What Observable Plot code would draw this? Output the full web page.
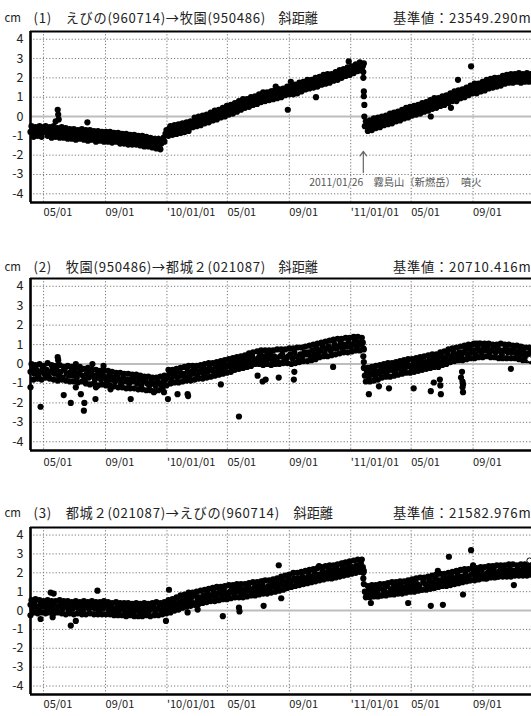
<!DOCTYPE html>
<html><head><meta charset="utf-8">
<script src="https://cdn.jsdelivr.net/npm/d3@7"></script>
<script src="https://cdn.jsdelivr.net/npm/@observablehq/plot@0.6"></script>
<style>
html,body{margin:0;padding:0;background:#fff;}
#chart{width:531px;}
#chart svg{display:block;}
</style></head><body><div id="chart"></div>
<script>
const FONT = '"Noto Sans CJK JP", "Noto Sans", sans-serif';

// ---- axis ticks ----
const xTickDates = ["2009-05-01","2009-09-01","2010-01-01","2010-05-01","2010-09-01","2011-01-01","2011-05-01","2011-09-01"];
const xTickLabels = ["05/01","09/01","'10/01/01","05/01","09/01","'11/01/01","05/01","09/01"];
const yTicks = [4,3,2,1,0,-1,-2,-3,-4];
const xDomain = ["2009-04-05","2011-12-26"];
const yDomain = [-4.45, 4.4];

// ---- titles ----
const panelTitles = ["(1)　えびの(960714)→牧園(950486)", "(2)　牧園(950486)→都城２(021087)", "(3)　都城２(021087)→えびの(960714)"];
const panelKind = ["斜距離", "斜距離", "斜距離"];
const panelBase = ["基準値：23549.290m", "基準値：20710.416m", "基準値：21582.976m"];
const eventDate = "2011-01-26";
const eventLabel = "2011/01/26　霧島山（新燃岳）　噴火";

// ---- series: values every 4 days (A = band core, B = band edges, 2 days later) ----
const seriesStepDays = 4;
const preStartA = "2009-04-05", preStartB = "2009-04-07";
const postStartA = "2011-01-29", postStartB = "2011-01-31";

const p1Pre = [-0.8,-0.7,-0.9,-0.8,-0.6,-0.9,-0.7,
-0.8,-0.6,-0.9,-0.7,-1.0,-0.8,-0.7,-0.9,-0.8,-1.0,-0.7,-0.9,-1.0,-0.8,
-1.0,-0.8,-1.1,-0.9,-1.0,-0.8,-1.1,-0.9,-1.2,-1.0,-0.9,-1.1,-1.0,-1.2,-0.9,-1.1,-1.0,
-1.2,-1.0,-1.1,-0.9,-1.2,-1.1,-1.3,-1.0,-1.2,-1.1,-1.3,-1.2,-1.1,
-1.3,-1.1,-1.4,-1.2,-1.3,-1.2,-1.4,-1.3,-1.5,-1.3,-1.4,-1.5,-1.3,-1.6,-1.4,
-1.1,-0.9,
-0.8,-0.6,-0.8,-0.6,-0.7,-0.5,-0.6,-0.4,-0.6,-0.4,-0.5,-0.3,-0.3,
-0.4,-0.2,-0.3,-0.1,-0.2,-0.1,0.0,-0.1,0.1,0.0,
0.2,0.0,0.1,0.3,0.2,0.4,0.2,0.4,
0.5,0.3,0.6,0.4,0.6,0.5,0.7,
0.6,0.8,0.7,0.9,0.7,0.9,0.8,1.0,0.9,1.1,
1.0,1.2,1.0,1.1,1.3,1.1,1.2,1.4,1.2,1.3,1.4,1.2,1.4,
1.5,1.3,1.5,1.4,1.6,1.5,1.7,1.5,1.7,
1.6,1.8,1.7,1.9,1.7,1.8,2.0,1.8,2.0,1.9,
2.1,1.9,2.1,2.0,2.2,2.1,2.3,2.2,2.4,2.3,
2.4,2.5,2.4,2.6,2.5,2.7,2.6,2.6];
const p1PreB = [-0.5,-1.05,-0.55,-1.0,-0.5,-1.05,-0.55,
-0.5,-1.0,-0.55,-1.1,-0.5,-1.05,-0.6,-1.1,-0.55,-1.1,-0.6,-1.15,-0.65,-1.15,
-0.65,-1.2,-0.7,-1.15,-0.65,-1.2,-0.7,-1.25,-0.7,-1.2,-0.75,-1.3,-0.75,-1.25,-0.8,-1.3,-0.8,
-1.3,-0.8,-1.35,-0.85,-1.3,-0.85,-1.4,-0.9,-1.4,-0.9,-1.45,-0.95,-1.45,
-0.95,-1.45,-1.0,-1.5,-1.0,-1.55,-1.05,-1.55,-1.1,-1.6,-1.15,-1.65,-1.15,-1.7,-1.2,
-1.3,-0.7,
-1.0,-0.5,-0.95,-0.45,-0.9,-0.4,-0.85,-0.35,-0.8,-0.3,-0.75,-0.25,-0.55,
-0.05,-0.5,0.0,-0.45,0.05,-0.35,0.1,-0.3,0.2,-0.2,
0.3,-0.15,0.35,-0.05,0.45,0.0,0.55,0.1,
0.6,0.15,0.7,0.25,0.8,0.35,0.9,
0.45,0.9,0.5,1.0,0.6,1.05,0.65,1.15,0.75,1.25,
0.8,1.25,0.85,1.3,0.9,1.35,0.95,1.4,1.0,1.45,1.1,1.55,1.15,
1.6,1.15,1.65,1.2,1.75,1.3,1.8,1.4,1.9,
1.45,1.9,1.5,2.0,1.55,2.05,1.65,2.15,1.7,2.2,
1.75,2.2,1.85,2.3,1.9,2.4,2.0,2.45,2.1,2.55,
2.15,2.6,2.25,2.7,2.35,2.8,2.4,2.75];
const p1Post = [-0.5,-0.4,-0.6,-0.4,-0.3,-0.5,-0.3,-0.4,-0.2,-0.3,-0.1,-0.3,-0.1,-0.2,0.0,
0.0,-0.1,0.1,0.0,0.2,0.1,0.3,0.1,0.3,
0.4,0.2,0.5,0.3,0.5,0.4,0.6,0.5,0.7,0.5,0.7,
0.8,0.6,0.9,0.7,0.9,0.8,1.0,0.9,1.1,1.0,
1.1,1.2,1.0,1.3,1.2,1.4,1.2,1.4,1.3,1.5,
1.4,1.6,1.5,1.7,1.5,1.7,1.6,1.8,1.7,1.8,
1.9,1.7,1.9,1.8,2.0,1.8,2.0,1.9,
2.1,1.9,2.0,2.1,1.9,2.1,2.0,1.9,2.0,2.1];
const p1PostB = [-0.25,-0.75,-0.2,-0.7,-0.1,-0.6,-0.05,-0.55,0.0,-0.45,0.05,-0.4,0.15,-0.35,0.2,
-0.25,0.25,-0.2,0.35,-0.1,0.45,-0.05,0.5,0.05,
0.55,0.1,0.6,0.15,0.7,0.25,0.75,0.3,0.85,0.4,0.95,
0.45,0.95,0.55,1.05,0.6,1.1,0.7,1.2,0.8,1.3,
0.8,1.35,0.95,1.4,1.0,1.5,1.1,1.6,1.2,1.7,
1.2,1.7,1.3,1.8,1.35,1.9,1.45,1.95,1.5,2.0,
1.55,2.0,1.6,2.1,1.7,2.15,1.75,2.2,
1.75,2.2,1.8,2.25,1.75,2.2,1.8,2.25,1.8,2.2];
const p1Extra = [["2009-05-29",0.35],["2009-05-30",0.1],["2009-05-31",-0.15],["2009-05-25",-0.25],["2009-07-27",-0.3],
["2010-08-05",1.55],["2010-08-29",0.35],["2010-09-04",1.8],["2010-10-24",1.0],["2010-12-28",2.85],
["2011-01-26",2.3],["2011-01-26",2.0],["2011-01-27",1.3],["2011-01-27",1.05],["2011-01-28",0.6],["2011-01-28",0.0],
["2011-06-09",0.0],["2011-07-19",0.45],["2011-08-02",1.9],["2011-08-28",2.6]];

const p2Pre = [-0.4,-0.2,-0.5,-0.3,-0.6,-0.4,-0.2,-0.5,-0.3,-0.6,-0.4,
-0.2,-0.5,-0.3,-0.6,-0.4,-0.7,-0.3,-0.5,-0.6,-0.4,
-0.6,-0.4,-0.7,-0.5,-0.3,-0.6,-0.8,-0.5,-0.7,-0.4,-0.6,-0.8,-0.6,-0.5,-0.8,-0.6,-0.7,
-0.9,-0.6,-0.8,-0.7,-0.9,-0.6,-0.8,-1.0,-0.7,-0.9,-0.8,-1.0,-0.8,
-0.9,-0.7,-1.0,-0.8,-1.1,-0.9,-0.8,-1.0,-1.1,-0.9,-1.0,-1.1,
-0.9,-1.0,-1.1,-0.9,-0.8,
-0.7,-0.5,-0.8,-0.6,-0.5,-0.7,-0.4,-0.6,-0.5,-0.7,-0.4,-0.6,-0.4,
-0.5,-0.3,-0.6,-0.4,-0.2,-0.5,-0.3,-0.4,-0.2,-0.3,
-0.4,-0.2,-0.3,-0.1,-0.3,0.0,-0.2,-0.1,
0.0,-0.2,0.1,-0.1,0.2,0.0,0.1,
0.2,0.0,0.3,0.1,0.4,0.2,0.1,0.3,0.5,0.2,
0.4,0.1,0.3,0.5,0.2,0.4,0.3,0.1,0.4,0.5,0.2,0.3,0.4,
0.5,0.3,0.6,0.4,0.2,0.5,0.4,0.6,0.5,
0.6,0.4,0.7,0.5,0.8,0.6,0.7,0.9,0.6,0.8,
0.9,0.7,0.8,1.0,0.8,0.9,1.1,0.8,1.0,0.9,
1.1,0.9,1.0,1.2,0.9,1.1,1.0,1.1];
const p2PreB = [0.0,-0.8,-0.05,-0.75,0.0,-0.8,-0.1,-0.7,0.05,-0.75,-0.05,
-0.8,-0.1,-0.85,-0.05,-0.8,-0.15,-0.85,-0.1,-0.9,-0.15,
-0.9,-0.2,-0.95,-0.15,-0.9,-0.25,-1.0,-0.2,-1.05,-0.3,-1.0,-0.3,-1.1,-0.35,-1.05,-0.35,-1.1,
-0.35,-1.1,-0.4,-1.15,-0.45,-1.2,-0.45,-1.2,-0.5,-1.25,-0.5,-1.25,-0.55,
-1.25,-0.55,-1.3,-0.6,-1.3,-0.65,-1.35,-0.65,-1.35,-0.7,-1.4,-0.7,
-1.35,-0.65,-1.3,-0.6,-1.1,
-0.3,-1.0,-0.3,-0.95,-0.25,-0.95,-0.2,-0.9,-0.15,-0.85,-0.1,-0.85,-0.1,
-0.8,-0.1,-0.75,-0.05,-0.75,0.0,-0.7,0.05,-0.65,0.05,
-0.6,0.1,-0.55,0.15,-0.5,0.2,-0.45,0.25,
-0.4,0.3,-0.3,0.35,-0.25,0.4,-0.2,
0.45,-0.15,0.55,-0.1,0.6,0.0,0.65,0.0,0.7,-0.05,
0.7,0.0,0.7,-0.05,0.7,0.0,0.75,0.0,0.75,0.05,0.75,0.05,0.8,
0.0,0.8,0.05,0.85,0.1,0.85,0.15,0.9,0.15,
0.95,0.2,1.0,0.25,1.05,0.35,1.1,0.4,1.15,0.4,
1.2,0.45,1.25,0.5,1.3,0.55,1.3,0.6,1.35,0.6,
1.35,0.65,1.4,0.7,1.4,0.7,1.35,0.75];
const p2Post = [-0.6,-0.4,-0.7,-0.5,-0.3,-0.6,-0.4,-0.5,-0.3,-0.4,-0.2,
-0.4,-0.2,-0.3,-0.1,-0.4,-0.2,0.0,-0.3,-0.1,-0.2,0.0,-0.1,
-0.2,0.0,-0.1,0.1,-0.1,0.2,0.0,0.1,-0.1,0.2,0.1,0.3,0.1,
0.3,0.1,0.4,0.2,0.3,0.5,0.2,0.4,0.6,0.3,0.5,0.6,
0.4,0.6,0.7,0.5,0.8,0.6,0.7,0.5,0.8,0.7,0.6,0.8,0.7,
0.8,0.6,0.7,0.9,0.6,0.8,0.7,0.5,0.7,0.8,0.6,0.7,0.6,0.8,
0.6,0.5,0.7,0.5,0.6,0.4,0.5,0.6];
const p2PostB = [-0.9,-0.2,-0.9,-0.15,-0.85,-0.1,-0.8,-0.05,-0.7,0.0,-0.65,
0.05,-0.65,0.05,-0.6,0.1,-0.55,0.15,-0.5,0.2,-0.45,0.25,-0.45,
0.25,-0.4,0.3,-0.35,0.35,-0.3,0.4,-0.25,0.45,-0.2,0.5,-0.15,0.5,
-0.15,0.6,-0.05,0.65,0.0,0.75,0.1,0.8,0.15,0.85,0.2,0.9,
0.2,0.95,0.25,1.0,0.3,1.0,0.3,1.05,0.35,1.05,0.35,1.05,0.4,
1.05,0.35,1.0,0.35,1.0,0.3,1.05,0.3,1.0,0.3,1.0,0.3,0.95,0.3,
0.95,0.25,0.9,0.2,0.85,0.2,0.85,0.15];
const p2Extra = [["2009-04-05",-1.2],["2009-04-25",-2.2],["2009-06-10",-1.6],["2009-06-24",-2.0],["2009-07-04",-1.2],
["2009-07-14",-1.55],["2009-07-20",-2.4],["2009-07-21",-2.0],["2009-08-12",-1.8],["2009-08-13",-1.2],
["2009-09-11",-1.3],["2009-10-21",-1.8],["2009-12-06",-1.45],["2009-12-26",-1.45],["2010-01-03",-1.8],
["2010-01-22",-1.55],["2010-02-11",-1.55],["2010-02-12",-1.65],["2010-04-18",-1.05],["2010-05-24",-2.7],
["2009-05-29",0.35],["2009-05-30",0.2],["2009-07-04",0.0],["2009-08-06",0.0],["2009-08-28",-0.1],
["2010-06-30",-0.6],["2010-07-10",-0.9],["2010-07-16",-0.8],["2010-07-20",0.6],
["2010-08-11",-0.7],["2010-09-10",-0.8],["2010-09-11",-0.4],["2010-11-27",-0.15],
["2011-01-26",0.8],["2011-01-26",0.4],["2011-01-27",0.1],["2011-01-27",-0.2],
["2011-02-06",-1.55],["2011-02-26",-1.15],["2011-03-18",-1.25],["2011-05-06",-1.25],["2011-06-09",-1.4],
["2011-06-15",-0.95],["2011-06-27",-0.8],["2011-06-28",-1.1],["2011-06-29",-1.55],["2011-08-08",-0.7],
["2011-08-10",-0.4],["2011-08-11",-0.9],["2011-08-11",-1.2],["2011-08-12",-1.45],["2011-08-12",-1.05],
["2011-11-15",-0.25],["2011-09-03",1.05],["2011-09-13",1.05]];

const p3Pre = [0.3,0.1,0.4,0.2,0.0,0.3,0.2,0.4,0.1,0.3,0.2,
0.1,0.3,0.0,0.2,0.4,0.1,0.3,0.2,0.0,0.3,0.1,0.2,0.4,0.1,0.3,0.0,0.2,0.3,0.1,0.2,0.4,0.1,0.2,0.0,0.3,0.1,0.2,
0.3,0.0,0.2,0.1,-0.1,0.2,0.0,0.3,0.1,-0.1,0.2,0.0,0.1,-0.1,0.2,0.0,0.1,-0.1,
0.1,-0.1,0.2,0.0,0.1,0.2,-0.1,0.1,0.3,0.0,0.2,0.1,
0.3,0.1,0.4,0.2,0.4,0.3,0.5,0.3,0.6,0.4,0.7,
0.5,0.7,0.4,0.8,0.6,0.7,0.5,0.8,0.6,0.9,0.7,0.8,1.0,0.7,0.9,
1.0,0.8,1.1,0.9,0.8,1.0,1.2,0.9,1.1,1.0,1.2,
0.9,1.1,1.0,1.3,1.1,0.9,1.2,1.0,1.3,1.1,1.4,1.2,1.0,1.3,
1.2,1.4,1.3,1.5,1.2,1.4,1.6,1.3,1.5,1.7,1.4,1.6,1.7,
1.5,1.7,1.6,1.8,1.5,1.7,1.9,1.6,1.8,2.0,1.7,1.9,1.8,2.1,1.9,2.0,2.2,
1.9,2.1,2.0,2.2,1.9,2.1,2.3,2.0,2.2,2.4,2.1,2.3,2.2,2.4,2.3,2.5,2.3];
const p3PreB = [0.55,-0.1,0.6,-0.15,0.55,-0.1,0.5,-0.15,0.55,-0.1,0.5,
-0.15,0.5,-0.1,0.55,-0.15,0.5,-0.2,0.5,-0.15,0.45,-0.2,0.5,-0.15,0.45,-0.2,0.5,-0.2,0.45,-0.15,0.5,-0.2,0.45,-0.2,0.45,-0.2,0.5,-0.2,
0.45,-0.2,0.4,-0.25,0.45,-0.25,0.4,-0.25,0.4,-0.3,0.4,-0.25,0.35,-0.3,0.4,-0.3,0.35,-0.3,
0.4,-0.25,0.35,-0.3,0.4,-0.25,0.45,-0.25,0.4,-0.2,0.45,-0.15,
0.55,-0.1,0.6,0.0,0.7,0.05,0.8,0.15,0.85,0.2,0.95,
0.25,0.95,0.3,1.0,0.35,1.05,0.4,1.1,0.45,1.15,0.5,1.2,0.5,1.25,0.55,
1.25,0.6,1.3,0.6,1.35,0.65,1.35,0.7,1.4,0.7,1.4,
0.7,1.4,0.75,1.45,0.8,1.5,0.8,1.5,0.85,1.55,0.9,1.6,0.9,1.6,
0.95,1.65,1.0,1.7,1.05,1.8,1.1,1.85,1.2,1.9,1.25,2.0,1.3,
2.0,1.35,2.05,1.4,2.1,1.45,2.15,1.5,2.2,1.55,2.25,1.6,2.3,1.65,2.35,1.7,2.4,
1.7,2.4,1.75,2.45,1.8,2.5,1.85,2.55,1.9,2.6,1.95,2.65,2.0,2.7,2.05,2.7,2.1];
const p3Post = [1.0,0.8,1.1,0.9,1.2,0.9,1.0,1.2,0.8,1.1,1.0,1.3,0.9,1.1,1.2,1.0,1.3,1.1,
1.3,1.0,1.2,1.4,1.1,1.3,1.5,1.2,1.4,1.3,1.1,1.5,1.4,
1.3,1.6,1.4,1.5,1.7,1.4,1.6,1.5,1.7,
1.5,1.7,1.6,1.8,1.5,1.7,1.9,1.6,1.8,1.7,2.0,1.8,1.6,1.9,2.0,1.8,
2.0,1.8,2.1,1.9,1.7,2.0,2.1,1.9,2.2,2.0,1.8,2.1,2.0,2.2,
1.9,2.1,2.2,2.0,2.1,1.9,2.2,2.0,2.1,2.3,2.0,2.1,2.2];
const p3PostB = [0.7,1.3,0.7,1.35,0.75,1.35,0.75,1.4,0.8,1.4,0.8,1.45,0.85,1.5,0.85,1.5,0.9,1.55,
0.9,1.55,0.95,1.6,1.0,1.65,1.0,1.7,1.05,1.75,1.1,1.75,1.1,
1.8,1.15,1.85,1.2,1.9,1.25,1.95,1.3,1.95,
1.3,2.0,1.35,2.05,1.4,2.1,1.45,2.15,1.5,2.2,1.55,2.2,1.6,2.25,1.6,2.25,
1.65,2.3,1.7,2.3,1.7,2.35,1.75,2.35,1.75,2.4,1.8,2.4,1.8,2.4,
1.8,2.45,1.8,2.45,1.85,2.4,1.85,2.45,1.85,2.45,1.85,2.4,1.9];
const p3Extra = [["2009-04-05",-0.25],["2009-04-25",-0.45],["2009-05-15",0.95],["2009-05-21",0.9],["2009-05-19",-0.35],
["2009-06-24",-0.8],["2009-07-04",-0.55],["2009-08-16",1.05],["2009-12-30",-0.55],["2010-01-05",1.1],
["2010-02-11",-0.1],["2010-03-03",0.05],["2010-04-22",-0.3],["2010-05-24",0.15],["2010-05-25",-0.05],
["2010-07-10",1.55],["2010-07-12",0.25],["2010-08-16",0.65],["2010-08-11",2.4],["2010-10-30",2.35],["2010-12-18",2.5],
["2011-01-26",2.0],["2011-01-26",1.7],["2011-01-27",1.4],
["2011-02-10",0.4],["2011-04-25",0.4],["2011-06-09",0.25],["2011-07-03",0.3],["2011-08-12",0.85],
["2011-06-23",2.1],["2011-07-15",2.85],["2011-08-28",3.2],["2011-09-01",2.4],["2011-11-21",1.35]];
// latest values (hollow markers)
const lastPoints = [null, ["2011-12-22",0.25], ["2011-12-22",2.65]];

// ---- helpers ----
const toDate = s => new Date(s + "T00:00:00Z");
const addDays = (s, k) => new Date(Date.parse(s + "T00:00:00Z") + k * 86400000);
const series = (vals, start) => vals.map((v, i) => ({date: addDays(start, seriesStepDays * i), v}));
function buildPoints(pre, preB, post, postB, extra) {
  return [
    ...series(pre, preStartA), ...series(preB, preStartB),
    ...series(post, postStartA), ...series(postB, postStartB),
    ...extra.map(([d, v]) => ({date: toDate(d), v}))
  ];
}
const xTickData = xTickDates.map((d, i) => ({date: toDate(d), label: xTickLabels[i]}));

function panel(k, pts, opts) {
  const marks = [
    Plot.ruleX(xTickData, {x: "date", stroke: "#777", strokeWidth: 1, strokeDasharray: "1.2,2"}),
    Plot.ruleY(yTicks.filter(d => d !== 0), {stroke: "#777", strokeWidth: 1, strokeDasharray: "1.2,2"}),
    Plot.ruleY([0], {stroke: "#bdbdbd", strokeWidth: 2}),
    Plot.dot(pts, {x: "date", y: "v", r: 3.1, fill: "#000", stroke: "none"}),
    Plot.ruleY([yDomain[1]], {stroke: "#000", strokeWidth: 2.2}),
    Plot.ruleY([yDomain[0]], {stroke: "#000", strokeWidth: 2.6}),
    Plot.ruleX([toDate(xDomain[0])], {stroke: "#000", strokeWidth: 2.6}),
    Plot.axisY(yTicks, {label: null, tickSize: 0, tickPadding: 7, fontSize: 12.5, tickFormat: d => String(d), fill: "#222"}),
    Plot.text(xTickData, {x: "date", text: "label", frameAnchor: "bottom", dy: opts.labelDy, textAnchor: "start", lineAnchor: "middle", fontSize: 11, fill: "#222"}),
    Plot.text(["cm"], {frameAnchor: "top-left", dx: -26, dy: opts.titleDy, textAnchor: "start", lineAnchor: "middle", fontSize: 11.5, fill: "#222"}),
    Plot.text([panelTitles[k]], {frameAnchor: "top-left", dx: 3, dy: opts.titleDy, textAnchor: "start", lineAnchor: "middle", fontSize: 13.2, fill: "#222", className: "titletext"}),
    Plot.text([panelKind[k]], {frameAnchor: "top-left", dx: opts.kindDx, dy: opts.titleDy, textAnchor: "start", lineAnchor: "middle", fontSize: 13.2, fill: "#222"}),
    Plot.text([panelBase[k]], {frameAnchor: "top-right", dx: 0, dy: opts.titleDy, textAnchor: "end", lineAnchor: "middle", fontSize: 13.2, fill: "#222", className: "basetext"})
  ];
  if (lastPoints[k]) {
    marks.push(Plot.dot([lastPoints[k]], {x: d => toDate(d[0]), y: d => d[1], r: 2.6, fill: "#fff", stroke: "#000", strokeWidth: 1}));
  }
  if (k === 0) {
    marks.push(Plot.arrow([eventDate], {x1: d => toDate(d), x2: d => toDate(d), y1: -2.9, y2: -1.8, stroke: "#666", strokeWidth: 1.2, headLength: 7, headAngle: 70}));
    marks.push(Plot.text([eventLabel], {x: toDate(eventDate), y: -3.4, dx: -54, textAnchor: "start", fontSize: 10.3, fill: "#555"}));
  }
  const svg = Plot.plot({
    width: 531, height: opts.height,
    marginLeft: 30, marginRight: 0, marginTop: opts.mt, marginBottom: opts.mb,
    x: {type: "utc", domain: xDomain.map(toDate), axis: null},
    y: {domain: yDomain, axis: null},
    style: {fontFamily: FONT, background: "#fff"},
    marks
  });
  d3.select(svg).selectAll("g.basetext text").style("letter-spacing", "0.8px");
  d3.select(svg).selectAll("g.titletext text").style("letter-spacing", "0.7px");
  return svg;
}

const chart = document.getElementById("chart");
chart.append(panel(0, buildPoints(p1Pre, p1PreB, p1Post, p1PostB, p1Extra), {height: 248, mt: 31, mb: 46, labelDy: 10, titleDy: -13, kindDx: 248}));
chart.append(panel(1, buildPoints(p2Pre, p2PreB, p2Post, p2PostB, p2Extra), {height: 248, mt: 30, mb: 46, labelDy: 12, titleDy: -11, kindDx: 248}));
chart.append(panel(2, buildPoints(p3Pre, p3PreB, p3Post, p3PostB, p3Extra), {height: 220, mt: 31, mb: 22, labelDy: 10, titleDy: -14, kindDx: 263}));
</script></body></html>
